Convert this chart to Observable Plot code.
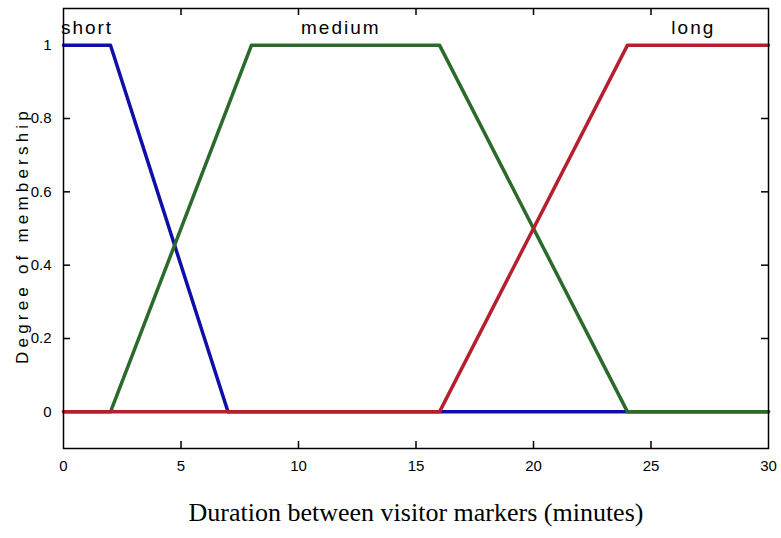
<!DOCTYPE html>
<html>
<head>
<meta charset="utf-8">
<script src="https://cdn.jsdelivr.net/npm/d3@7"></script>
<script src="https://cdn.jsdelivr.net/npm/@observablehq/plot@0.6"></script>
<style>
  html, body { margin: 0; padding: 0; background: #fff; }
  svg { display: block; }
</style>
</head>
<body>
<div id="chart"></div>
<script>
const xTicks = [0, 5, 10, 15, 20, 25, 30];
const yTicks = [0, 0.2, 0.4, 0.6, 0.8, 1];

const shortX = [0, 2, 7, 30];
const shortY = [1, 1, 0, 0];
const mediumX = [0, 2, 8, 16, 24, 30];
const mediumY = [0, 0, 1, 1, 0, 0];
const longX = [0, 16, 24, 30];
const longY = [0, 0, 1, 1];

const mfNames = ["short", "medium", "long"];
const mfLabelX = [1, 11.8, 26.8];
const mfLabelY = [1.047, 1.047, 1.047];

const xTitle = "Duration between visitor markers (minutes)";
const yTitle = "Degree of membership";

const toPts = (xs, ys) => xs.map((x, i) => ({x, y: ys[i]}));
const labels = mfNames.map((name, i) => ({name, x: mfLabelX[i], y: mfLabelY[i]}));

const tickFont = "Liberation Sans, Arial, sans-serif";
const W = 781, H = 538, mL = 63, mR = 13, mT = 8, mB = 90;
const tickLen = 7;
const innerX = xTicks.slice(1, -1);

const chart = Plot.plot({
  width: W,
  height: H,
  marginLeft: mL,
  marginRight: mR,
  marginTop: mT,
  marginBottom: mB,
  style: {fontFamily: tickFont, fontSize: "15px", background: "white"},
  x: {domain: [0, 30], ticks: xTicks},
  y: {domain: [-0.1, 1.1], ticks: yTicks},
  marks: [
    Plot.axisX({anchor: "bottom", ticks: xTicks, tickSize: 0, tickPadding: 12, label: null, fontSize: 15, fill: "black"}),
    Plot.axisY({anchor: "left", ticks: yTicks, tickSize: 0, tickPadding: 12, label: null, fontSize: 15, fill: "black", tickFormat: d => String(d)}),
    Plot.ruleX(innerX, {x: d => d, insetTop: H - mT - mB - tickLen, stroke: "black", strokeWidth: 1.5}),
    Plot.ruleX(innerX, {x: d => d, insetBottom: H - mT - mB - tickLen, stroke: "black", strokeWidth: 1.5}),
    Plot.ruleY(yTicks, {y: d => d, insetRight: W - mL - mR - tickLen, stroke: "black", strokeWidth: 1.5}),
    Plot.ruleY(yTicks, {y: d => d, insetLeft: W - mL - mR - tickLen, stroke: "black", strokeWidth: 1.5}),
    Plot.line(toPts(shortX, shortY), {x: "x", y: "y", stroke: "#0f0fa8", strokeWidth: 3.5}),
    Plot.line(toPts(mediumX, mediumY), {x: "x", y: "y", stroke: "#2b6a2b", strokeWidth: 3.5}),
    Plot.line(toPts(longX, longY), {x: "x", y: "y", stroke: "#b6202e", strokeWidth: 3.5}),
    Plot.text(labels, {x: "x", y: "y", text: "name", fontSize: 19, fill: "black", fontFamily: tickFont}),
    Plot.frame({stroke: "black", strokeWidth: 1.5}),
    Plot.text([xTitle], {frameAnchor: "bottom", dy: 72, fontSize: 26, fontFamily: "Liberation Serif, Times New Roman, serif", fill: "black"}),
    Plot.text([yTitle], {frameAnchor: "left", textAnchor: "middle", dx: -41, dy: 7, rotate: -90, fontSize: 17, fill: "black", fontFamily: tickFont})
  ]
});
document.getElementById("chart").append(chart);

d3.select(chart).selectAll("text").each(function() {
  const t = this.textContent;
  if (t === yTitle) d3.select(this).style("letter-spacing", "4.2px");
  if (mfNames.includes(t)) d3.select(this).style("letter-spacing", "2px");
});
</script>
</body>
</html>
